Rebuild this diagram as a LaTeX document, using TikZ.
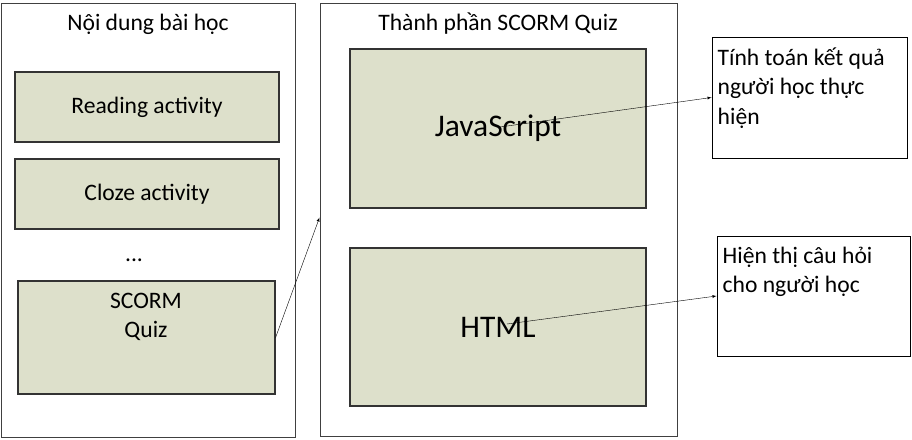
\documentclass[tikz,border=0pt]{standalone}
\usepackage{fontspec}
\setmainfont{Carlito}
\definecolor{boxgreen}{RGB}{221,224,203}
\tikzset{
  frame/.style={draw=black!75,line width=1pt,inner sep=0pt},
  part/.style={draw=black!80,fill=boxgreen,line width=1.2pt,inner sep=0pt},
  note/.style={draw=black,line width=1pt,inner sep=0pt},
  txt/.style={font=\fontsize{23.6}{29.5}\selectfont},
  bigtxt/.style={font=\fontsize{31.5}{38}\selectfont}
}
\begin{document}
\begin{tikzpicture}[x=1pt,y=-1pt,>=latex]
  \useasboundingbox (0,0) rectangle (912,439);
  % left column
  \node[frame,minimum width=294,minimum height=434] (lesson) at (148,220) {};
  \node[txt] (lessontitle) at (148,24) {Nội dung bài học};
  \node[part,txt,minimum width=264,minimum height=70] (reading) at (147,107) {Reading activity};
  \node[part,txt,minimum width=264,minimum height=70] (cloze) at (147,194) {Cloze activity};
  \node[txt] (dots) at (134,260) {...};
  \node[part,minimum width=257,minimum height=113] (quiz) at (146.5,337.5) {};
  \node[txt,align=center] (quiztext) at (146,317) {SCORM\\Quiz};
  % middle column
  \node[frame,minimum width=357,minimum height=433] (mid) at (498.5,219.5) {};
  \node[txt] (midtitle) at (498,24) {Thành phần SCORM Quiz};
  \node[part,bigtxt,minimum width=296,minimum height=159] (js) at (498,128.5) {JavaScript};
  \node[part,bigtxt,minimum width=296,minimum height=158] (html) at (498,327) {HTML};
  % right notes
  \node[note,minimum width=195,minimum height=121] (res) at (809.5,97.5) {};
  \node[txt,anchor=north west,align=left,inner sep=0pt] (restext) at ([xshift=6,yshift=-11]res.north west) {Tính toán kết quả\\người học thực\\hiện};
  \node[note,minimum width=193,minimum height=120] (show) at (813.5,296) {};
  \node[txt,anchor=north west,align=left,inner sep=0pt] (showtext) at ([xshift=6,yshift=-11]show.north west) {Hiện thị câu hỏi\\cho người học};
  % connectors
  \coordinate (jsstart) at (500,127);
  \coordinate (htmlstart) at (507,324);
  \draw[->] (jsstart) -- (res.west);
  \draw[->] (htmlstart) -- (show.west);
  \draw[->] (quiz.east) -- ([yshift=2]mid.west);
\end{tikzpicture}
\end{document}
